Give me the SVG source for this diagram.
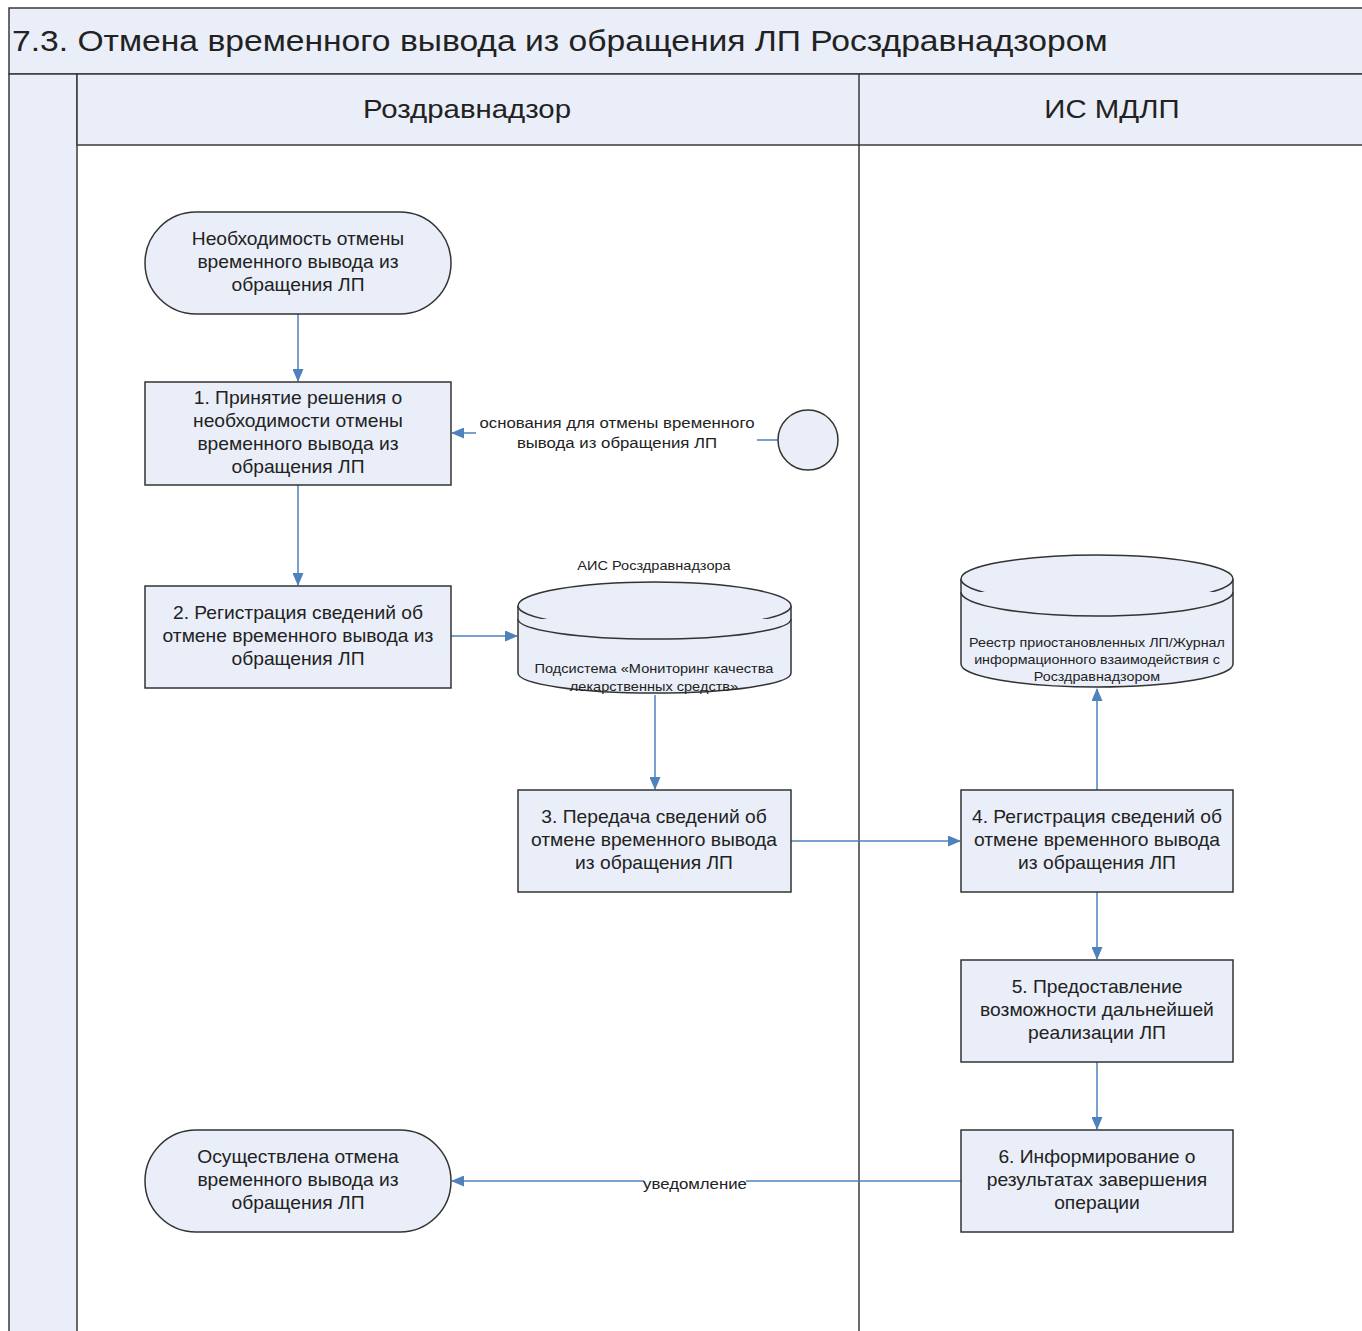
<svg xmlns="http://www.w3.org/2000/svg" width="1362" height="1331" viewBox="0 0 1362 1331">
<defs>
<style>
.bg{fill:#ffffff}
.band{fill:#e9eef8;stroke:#3a3a3a;stroke-width:1.5}
.node{fill:#e9eef8;stroke:#333;stroke-width:1.5}
.t{font-family:"Liberation Sans",Arial,sans-serif;fill:#222;text-anchor:middle}
.nt{font-size:17.5px}
.sm{font-size:15px}
.xs{font-size:13px}
.conn{stroke:#4f81bd;stroke-width:1.5;fill:none}
.lane{stroke:#3a3a3a;stroke-width:1.5;fill:none}
</style>
<marker id="ah" markerWidth="13" markerHeight="11" refX="12" refY="5.5" orient="auto" markerUnits="userSpaceOnUse">
<path d="M0,0 L13,5.5 L0,11 z" fill="#4f81bd"/>
</marker>
</defs>
<rect class="bg" x="0" y="0" width="1362" height="1331"/>
<g id="frame">
<rect class="band" x="9" y="8" width="1360" height="66"/>
<text class="t" x="12" y="51" font-size="29" style="text-anchor:start" transform="matrix(1.16,0,0,1,-1.92,0)">7.3. Отмена временного вывода из обращения ЛП Росздравнадзором</text>
<rect class="band" x="9" y="74" width="68" height="1270"/>
<rect class="band" x="77" y="74" width="1290" height="71"/>
<line class="lane" x1="859" y1="74" x2="859" y2="1331"/>
<text class="t" x="467" y="118" font-size="26" transform="matrix(1.13,0,0,1,-60.71,0)">Роздравнадзор</text>
<text class="t" x="1112" y="118" font-size="26" transform="matrix(1.13,0,0,1,-144.56,0)">ИС МДЛП</text>
</g>
<g id="connectors">
<line class="conn" x1="298" y1="314" x2="298" y2="381" marker-end="url(#ah)"/>
<line class="conn" x1="298" y1="485" x2="298" y2="585" marker-end="url(#ah)"/>
<line class="conn" x1="778" y1="440" x2="757" y2="440"/>
<line class="conn" x1="476" y1="433" x2="452" y2="433" marker-end="url(#ah)"/>
<line class="conn" x1="451" y1="636" x2="517" y2="636" marker-end="url(#ah)"/>
<line class="conn" x1="655" y1="695" x2="655" y2="789" marker-end="url(#ah)"/>
<line class="conn" x1="791" y1="841" x2="960" y2="841" marker-end="url(#ah)"/>
<line class="conn" x1="1097" y1="790" x2="1097" y2="689" marker-end="url(#ah)"/>
<line class="conn" x1="1097" y1="892" x2="1097" y2="959" marker-end="url(#ah)"/>
<line class="conn" x1="1097" y1="1062" x2="1097" y2="1129" marker-end="url(#ah)"/>
<line class="conn" x1="961" y1="1181" x2="452" y2="1181" marker-end="url(#ah)"/>
<rect x="644" y="1176" width="102" height="10" fill="#fff"/>
<g transform="matrix(1.12,0,0,1,-83.4,0)">
<text class="t sm" x="695" y="1189">уведомление</text>
</g>
<g transform="matrix(1.12,0,0,1,-74.04,0)">
<text class="t sm" x="617" y="428">основания для отмены временного</text>
<text class="t sm" x="617" y="448">вывода из обращения ЛП</text>
</g>
</g>
<g id="start">
<rect class="node" x="145" y="212" width="306" height="102" rx="51" ry="51"/>
<g transform="matrix(1.1,0,0,1,-29.8,0)">
<text class="t nt" x="298" y="245">Необходимость отмены</text>
<text class="t nt" x="298" y="268">временного вывода из</text>
<text class="t nt" x="298" y="291">обращения ЛП</text>
</g>
</g>
<g id="step1">
<rect class="node" x="145" y="382" width="306" height="103"/>
<g transform="matrix(1.1,0,0,1,-29.8,0)">
<text class="t nt" x="298" y="404">1. Принятие решения о</text>
<text class="t nt" x="298" y="427">необходимости отмены</text>
<text class="t nt" x="298" y="450">временного вывода из</text>
<text class="t nt" x="298" y="473">обращения ЛП</text>
</g>
</g>
<g id="source">
<circle class="node" cx="808" cy="440" r="30"/>
</g>
<g id="step2">
<rect class="node" x="145" y="586" width="306" height="102"/>
<g transform="matrix(1.1,0,0,1,-29.8,0)">
<text class="t nt" x="298" y="619">2. Регистрация сведений об</text>
<text class="t nt" x="298" y="642">отмене временного вывода из</text>
<text class="t nt" x="298" y="665">обращения ЛП</text>
</g>
</g>
<g id="db1">
<path class="node" d="M518,606 A136.5,24 0 0 1 791,606 L791,673 A136.5,20 0 0 1 518,673 Z"/>
<path class="node" d="M518,606 A136.5,22 0 0 0 791,606" fill="none"/>
<path class="node" d="M518,619 A136.5,20 0 0 0 791,619" fill="none"/>
<g transform="matrix(1.12,0,0,1,-78.48,0)">
<text class="t xs" x="654" y="570">АИС Росздравнадзора</text>
<text class="t xs" x="654" y="673">Подсистема  «Мониторинг качества</text>
<text class="t xs" x="654" y="691">лекарственных средств»</text>
</g>
</g>
<g id="step3">
<rect class="node" x="518" y="790" width="273" height="102"/>
<g transform="matrix(1.1,0,0,1,-65.4,0)">
<text class="t nt" x="654" y="823">3. Передача сведений об</text>
<text class="t nt" x="654" y="846">отмене временного вывода</text>
<text class="t nt" x="654" y="869">из обращения ЛП</text>
</g>
</g>
<g id="db2">
<path class="node" d="M961,579 A136,24 0 0 1 1233,579 L1233,664 A136,23 0 0 1 961,664 Z"/>
<path class="node" d="M961,579 A136,24 0 0 0 1233,579" fill="none"/>
<path class="node" d="M961,592 A136,24 0 0 0 1233,592" fill="none"/>
<g transform="matrix(1.1,0,0,1,-109.7,0)">
<text class="t xs" x="1097" y="647">Реестр приостановленных ЛП/Журнал</text>
<text class="t xs" x="1097" y="664">информационного взаимодействия с</text>
<text class="t xs" x="1097" y="681">Росздравнадзором</text>
</g>
</g>
<g id="step4">
<rect class="node" x="961" y="790" width="272" height="102"/>
<g transform="matrix(1.1,0,0,1,-109.7,0)">
<text class="t nt" x="1097" y="823">4. Регистрация сведений об</text>
<text class="t nt" x="1097" y="846">отмене временного вывода</text>
<text class="t nt" x="1097" y="869">из обращения ЛП</text>
</g>
</g>
<g id="step5">
<rect class="node" x="961" y="960" width="272" height="102"/>
<g transform="matrix(1.1,0,0,1,-109.7,0)">
<text class="t nt" x="1097" y="993">5. Предоставление</text>
<text class="t nt" x="1097" y="1016">возможности дальнейшей</text>
<text class="t nt" x="1097" y="1039">реализации ЛП</text>
</g>
</g>
<g id="step6">
<rect class="node" x="961" y="1130" width="272" height="102"/>
<g transform="matrix(1.1,0,0,1,-109.7,0)">
<text class="t nt" x="1097" y="1163">6. Информирование  о</text>
<text class="t nt" x="1097" y="1186">результатах завершения</text>
<text class="t nt" x="1097" y="1209">операции</text>
</g>
</g>
<g id="end">
<rect class="node" x="145" y="1130" width="306" height="102" rx="51" ry="51"/>
<g transform="matrix(1.1,0,0,1,-29.8,0)">
<text class="t nt" x="298" y="1163">Осуществлена отмена</text>
<text class="t nt" x="298" y="1186">временного вывода из</text>
<text class="t nt" x="298" y="1209">обращения ЛП</text>
</g>
</g>
</svg>
